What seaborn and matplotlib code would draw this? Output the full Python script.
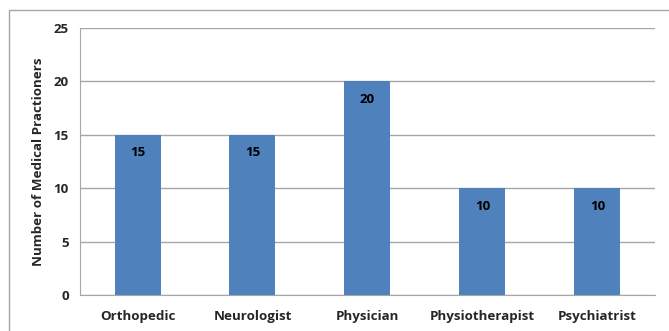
import pandas as pd
import matplotlib
matplotlib.use("Agg")
import matplotlib.pyplot as plt
import seaborn as sns
from matplotlib.patches import Rectangle

# data
specialties = ["Orthopedic", "Neurologist", "Physician", "Physiotherapist", "Psychiatrist"]
practitioners = [15, 15, 20, 10, 10]

df = pd.DataFrame({"specialty": specialties, "count": practitioners})

sns.set_style("white")
plt.rcParams["font.family"] = ["Open Sans", "DejaVu Sans"]

fig = plt.figure(figsize=(6.69, 3.31), dpi=100)
ax = fig.add_axes([0.1196, 0.1088, 0.979 - 0.1196, 0.9154 - 0.1088])

sns.barplot(data=df, x="specialty", y="count", color="#4F81BD", saturation=1,
            width=0.4, linewidth=0, edgecolor="#4F81BD", ax=ax, zorder=3)

ax.set_ylim(0, 25)
ax.set_yticks(range(0, 26, 5))
ax.set_xlim(-0.5, 4.5)
ax.yaxis.grid(True, color="#a6a6a6", linewidth=1, zorder=0)
ax.set_axisbelow(True)

for side in ["top", "right"]:
    ax.spines[side].set_visible(False)
ax.spines["left"].set_color("#a6a6a6")
ax.spines["bottom"].set_color("#a6a6a6")

fs = 9.6
# x ticks at category boundaries
ax.set_xticks(range(len(specialties)))
ax.set_xticklabels(specialties, fontsize=fs, fontweight="bold")
ax.set_xticks([i - 0.5 for i in range(len(specialties) + 1)], minor=True)
ax.tick_params(axis="x", which="major", length=0, pad=11)
ax.tick_params(axis="x", which="minor", length=5, color="#a6a6a6", direction="out")
ax.tick_params(axis="y", length=5, color="#a6a6a6", direction="out", labelsize=fs, pad=3)
for lab in ax.get_yticklabels():
    lab.set_fontweight("bold")

ax.set_xlabel("")
ax.set_ylabel("Number of Medical Practioners", fontsize=fs, fontweight="bold", labelpad=6)

for i, v in enumerate(practitioners):
    ax.text(i, v - 1.7, str(v), ha="center", va="center", fontsize=fs,
            fontweight="bold", color="black", zorder=4)

# chart border
fig.patches.append(Rectangle((9 / 669, -0.02), 1.0, 1 - 10 / 331 + 0.02,
                             transform=fig.transFigure, fill=False,
                             edgecolor="#a6a6a6", linewidth=1))

fig.savefig("out.png", dpi=100)
